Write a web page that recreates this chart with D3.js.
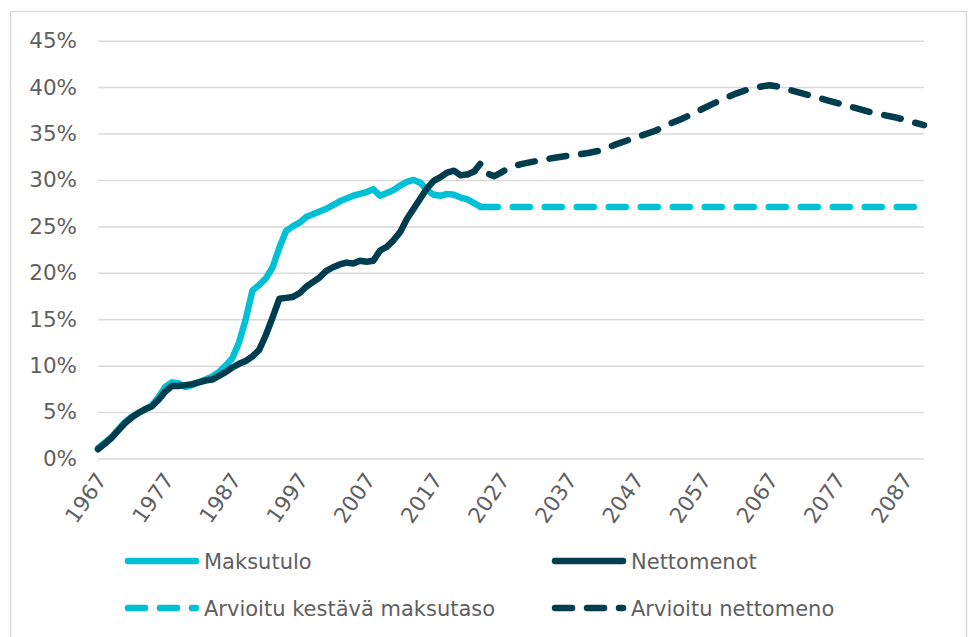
<!DOCTYPE html>
<html>
<head>
<meta charset="utf-8">
<script src="https://cdn.jsdelivr.net/npm/d3@7"></script>
<style>
  html, body { margin: 0; padding: 0; background: #ffffff; }
  svg { display: block; }
  text { font-family: "DejaVu Sans", Verdana, sans-serif; fill: #5f5f5f; }
</style>
</head>
<body>
<svg id="chart" width="969" height="637"></svg>
<script>
// ---------- DATA ----------
const yTicks = [0, 5, 10, 15, 20, 25, 30, 35, 40, 45];
const xTickYears = [1967, 1977, 1987, 1997, 2007, 2017, 2027, 2037, 2047, 2057, 2067, 2077, 2087];

const maksutuloYears = d3.range(1967, 2025);
const maksutuloValues = [
  1.1, 1.7, 2.3, 3.1, 3.9, 4.5, 4.9, 5.3, 5.7, 6.6,
  7.7, 8.2, 8.1, 7.7, 7.9, 8.2, 8.5, 8.8, 9.3, 10.0,
  10.8, 12.5, 15.0, 18.1, 18.7, 19.4, 20.6, 22.7, 24.5, 25.0,
  25.4, 26.0, 26.3, 26.6, 26.9, 27.3, 27.7, 28.0, 28.3, 28.5,
  28.7, 29.0, 28.3, 28.6, 28.9, 29.4, 29.8, 30.0, 29.7, 28.9,
  28.4, 28.3, 28.5, 28.4, 28.1, 27.9, 27.5, 27.1
];

const nettomenotYears = d3.range(1967, 2023);
const nettomenotValues = [
  1.0, 1.6, 2.2, 3.0, 3.8, 4.4, 4.9, 5.3, 5.6, 6.3,
  7.2, 7.8, 7.8, 7.9, 8.0, 8.2, 8.4, 8.5, 8.9, 9.3,
  9.8, 10.2, 10.5, 11.0, 11.7, 13.3, 15.2, 17.2, 17.3, 17.4,
  17.8, 18.5, 19.0, 19.5, 20.2, 20.6, 20.9, 21.1, 21.0, 21.3,
  21.2, 21.3, 22.4, 22.8, 23.5, 24.4, 25.8, 26.9, 28.0, 29.1,
  29.9, 30.3, 30.8, 31.0, 30.5, 30.6
];

const kestavaYears = [2024, 2090];
const kestavaValues = [27.1, 27.1];

const arvioituYears = [2022, 2023, 2024, 2025, 2026, 2027, 2028, 2029, 2030, 2032,
  2035, 2037, 2040, 2042, 2044, 2046, 2048, 2050, 2052, 2054,
  2056, 2058, 2060, 2062, 2064, 2066, 2067, 2068, 2070, 2072,
  2074, 2076, 2078, 2080, 2082, 2084, 2086, 2088, 2090];
const arvioituValues = [30.6, 30.9, 31.8, 30.7, 30.4, 30.8, 31.2, 31.5, 31.7, 32.0,
  32.4, 32.6, 32.9, 33.2, 33.8, 34.3, 34.8, 35.3, 36.0, 36.6,
  37.3, 38.0, 38.7, 39.3, 39.8, 40.1, 40.2, 40.1, 39.7, 39.3,
  38.9, 38.5, 38.1, 37.7, 37.3, 37.0, 36.7, 36.3, 35.9];

const seriesNames = ["Maksutulo", "Nettomenot", "Arvioitu kestävä maksutaso", "Arvioitu nettomeno"];
const colorCyan = "#00C0D5";
const colorDark = "#003E4F";

// ---------- LAYOUT ----------
const svg = d3.select("#chart");
const x = d3.scaleLinear().domain([1967, 2090]).range([98, 924]);
const y = d3.scaleLinear().domain([0, 45]).range([458.5, 40.7]);

// frame
svg.append("rect")
  .attr("x", 10.5).attr("y", 11.5)
  .attr("width", 956).attr("height", 640)
  .attr("fill", "none").attr("stroke", "#d9d9d9").attr("stroke-width", 1.5);

// y axis (gridlines + labels)
const yAxis = d3.axisLeft(y).tickValues(yTicks).tickSize(-(924 - 98)).tickPadding(21)
  .tickFormat(d => d + "%");
const gy = svg.append("g").attr("transform", "translate(98,0)").call(yAxis);
gy.select(".domain").remove();
gy.selectAll(".tick line").attr("stroke", "#d9d9d9").attr("stroke-width", 1.5);
gy.selectAll(".tick text").attr("font-size", "21.5px").attr("fill", "#5f5f5f")
  .style("font-family", "'DejaVu Sans', Verdana, sans-serif");

// x axis labels
const xAxis = d3.axisBottom(x).tickValues(xTickYears).tickSize(0).tickFormat(d3.format("d"));
const gx = svg.append("g").attr("transform", "translate(0,458.5)").call(xAxis);
gx.select(".domain").remove();
gx.selectAll(".tick text")
  .attr("font-size", "21.5px").attr("fill", "#5f5f5f")
  .style("font-family", "'DejaVu Sans', Verdana, sans-serif")
  .attr("text-anchor", "end")
  .attr("x", 0).attr("y", 0).attr("dy", "0.35em")
  .attr("transform", "translate(3,17) rotate(-55)");

// ---------- LINES ----------
function drawLine(years, values, color, dashed) {
  const pts = years.map((yr, i) => [yr, values[i]]);
  const line = d3.line().x(d => x(d[0])).y(d => y(d[1]));
  const p = svg.append("path").datum(pts)
    .attr("d", line)
    .attr("fill", "none")
    .attr("stroke", color)
    .attr("stroke-width", 6.5)
    .attr("stroke-linecap", "round")
    .attr("stroke-linejoin", "round");
  if (dashed) p.attr("stroke-dasharray", "17,15");
}
drawLine(maksutuloYears, maksutuloValues, colorCyan, false);
drawLine(kestavaYears, kestavaValues, colorCyan, true);
drawLine(nettomenotYears, nettomenotValues, colorDark, false);
drawLine(arvioituYears, arvioituValues, colorDark, true);

// ---------- LEGEND ----------
const legendItems = [
  { name: seriesNames[0], color: colorCyan, dashed: false, lx: 128, ly: 561 },
  { name: seriesNames[1], color: colorDark, dashed: false, lx: 555, ly: 561 },
  { name: seriesNames[2], color: colorCyan, dashed: true, lx: 128, ly: 608 },
  { name: seriesNames[3], color: colorDark, dashed: true, lx: 555, ly: 608 }
];
const lg = svg.append("g");
legendItems.forEach(it => {
  const l = lg.append("line")
    .attr("x1", it.lx).attr("x2", it.lx + 68)
    .attr("y1", it.ly).attr("y2", it.ly)
    .attr("stroke", it.color).attr("stroke-width", 6.5)
    .attr("stroke-linecap", "round");
  if (it.dashed) l.attr("stroke-dasharray", "17,15");
  lg.append("text")
    .attr("x", it.lx + 76).attr("y", it.ly + 7.5)
    .attr("font-size", "21px")
    .text(it.name);
});
</script>
</body>
</html>
